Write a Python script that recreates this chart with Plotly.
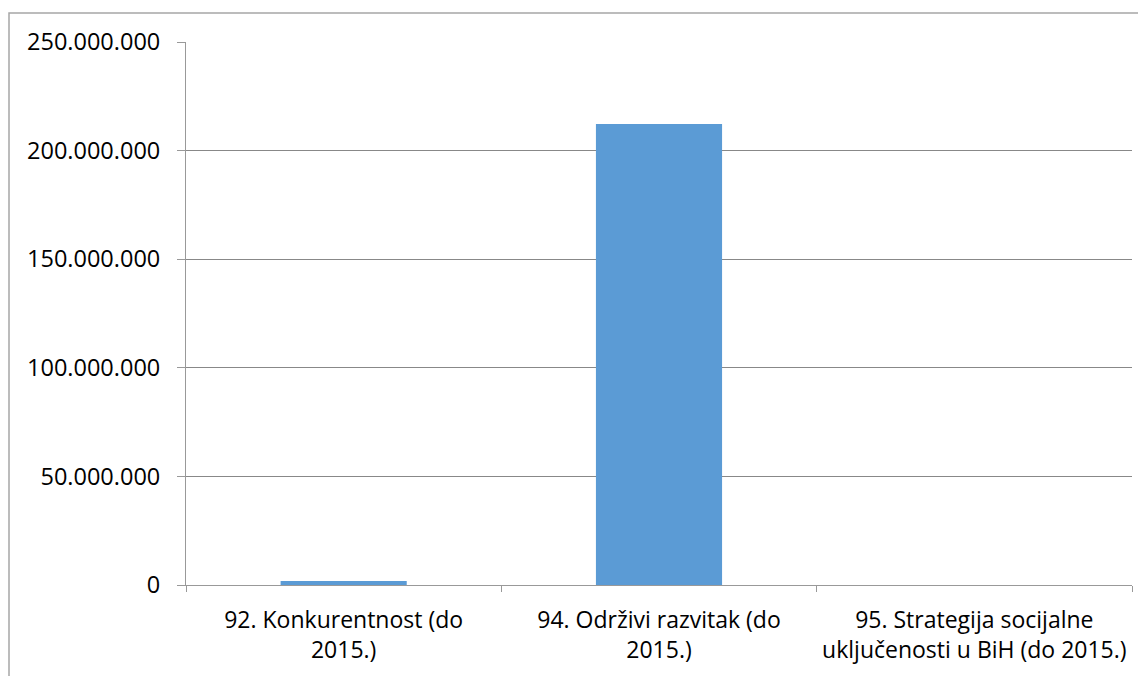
import plotly.graph_objects as go

categories = [
    "92. Konkurentnost (do<br>2015.)",
    "94. Održivi razvitak (do<br>2015.)",
    "95. Strategija socijalne<br>uključenosti u BiH (do 2015.)",
]
values = [1_800_000, 212_300_000, 0]
tick_vals = [0, 50_000_000, 100_000_000, 150_000_000, 200_000_000, 250_000_000]
tick_text = ["0", "50.000.000", "100.000.000", "150.000.000", "200.000.000", "250.000.000"]

fig = go.Figure()
fig.add_trace(go.Bar(x=categories, y=values, marker=dict(color="#5B9BD5", line=dict(width=0)),
                     width=0.4))

fig.update_layout(
    width=1146, height=676,
    margin=dict(l=178, r=22, t=34, b=99),
    paper_bgcolor="white", plot_bgcolor="white",
    font=dict(family="Open Sans, Noto Sans, sans-serif", size=23, color="#000000"),
    showlegend=False,
    bargap=0.6,
)
fig.update_xaxes(
    type="category", tickson="boundaries", ticks="outside", ticklen=6,
    tickcolor="#999999", showline=True, linecolor="#999999", linewidth=1,
    showgrid=False, tickfont=dict(size=23), ticklabelstandoff=14,
)
fig.update_yaxes(
    range=[0, 250_000_000], tickvals=tick_vals, ticktext=tick_text,
    ticks="outside", ticklen=8, tickcolor="#999999",
    showline=True, linecolor="#999999", linewidth=1,
    showgrid=True, gridcolor="#888888", gridwidth=1,
    zeroline=False, tickfont=dict(size=23.5), ticklabelstandoff=12,
)
fig.add_shape(type="rect", xref="paper", yref="paper",
              x0=-0.1871, x1=1.2, y0=-0.3, y1=1.0534,
              line=dict(color="#a6a6a6", width=1.5), fillcolor="rgba(0,0,0,0)", layer="above")

fig.write_html("out.html")
